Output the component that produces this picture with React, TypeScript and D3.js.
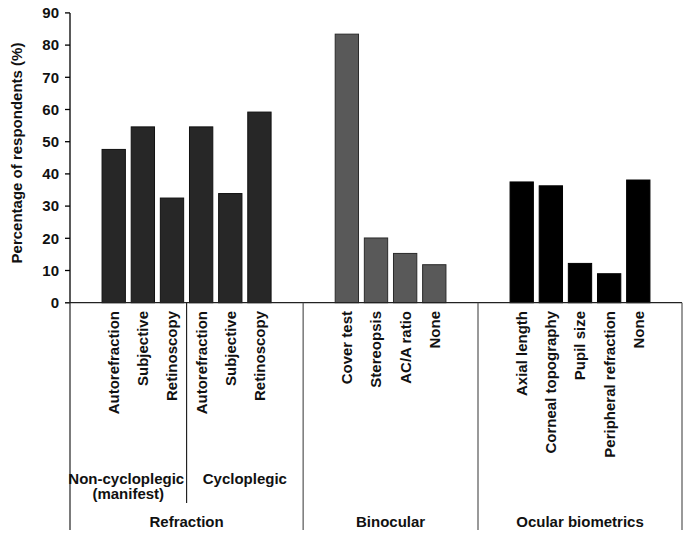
import React from "react";
import * as d3 from "d3";

const refractionLabels = ["Autorefraction", "Subjective", "Retinoscopy", "Autorefraction", "Subjective", "Retinoscopy"];
const refractionValues = [47.6, 54.6, 32.5, 54.6, 33.9, 59.2];
const binocularLabels = ["Cover test", "Stereopsis", "AC/A ratio", "None"];
const binocularValues = [83.4, 20.1, 15.3, 11.8];
const ocularLabels = ["Axial length", "Corneal topography", "Pupil size", "Peripheral refraction", "None"];
const ocularValues = [37.5, 36.3, 12.2, 9.0, 38.1];
const groupNames = ["Refraction", "Binocular", "Ocular biometrics"];
const subgroupNames = [["Non-cycloplegic", "(manifest)"], ["Cycloplegic"]];
const yTicks = [0, 10, 20, 30, 40, 50, 60, 70, 80, 90];
const yTitle = "Percentage of respondents (%)";

const W = 690;
const H = 536;
const FONT = "'Liberation Sans', Arial, Helvetica, sans-serif";

// slot layout: groups start at slot 1, 9, 15; 21 slots total
const groups = [
  { name: groupNames[0], labels: refractionLabels, values: refractionValues, start: 1, edgeStart: 0, edgeEnd: 8, fill: "#272727", stroke: "#111" },
  { name: groupNames[1], labels: binocularLabels, values: binocularValues, start: 9, edgeStart: 8, edgeEnd: 14, fill: "#595959", stroke: "#2a2a2a" },
  { name: groupNames[2], labels: ocularLabels, values: ocularValues, start: 15, edgeStart: 14, edgeEnd: 21, fill: "#000000", stroke: "#000" },
];

export default function App() {
  const x = d3.scaleBand<number>().domain(d3.range(21)).range([70, 682]).paddingInner(0.2).paddingOuter(0.1);
  const y = d3.scaleLinear().domain([0, 90]).range([302.7, 12.9]);
  const step = x.step();
  const x0 = x.range()[0];
  const edge = (i: number) => x0 + i * step;
  const baseY = y(0);
  const fs = 15;

  const bars: any[] = [];
  groups.forEach((g) => {
    g.values.forEach((v, i) => {
      bars.push({ slot: g.start + i, v, label: g.labels[i], fill: g.fill, stroke: g.stroke });
    });
  });

  return (
    <svg width={W} height={H} style={{ position: "absolute", left: 0, top: 0, background: "#fff" }} fontFamily={FONT}>
      <rect x={0} y={0} width={W} height={H} fill="#fff" />
      {/* bars */}
      {bars.map((b, i) => (
        <rect key={i} x={x(b.slot)!} y={y(b.v)} width={x.bandwidth()} height={baseY - y(b.v)} fill={b.fill} stroke={b.stroke} strokeWidth={1} />
      ))}
      {/* y axis */}
      <line x1={70} x2={70} y1={y(90)} y2={baseY} stroke="#000" strokeWidth={1.3} />
      {yTicks.map((t) => (
        <g key={t}>
          <line x1={65} x2={70} y1={y(t)} y2={y(t)} stroke="#000" strokeWidth={1.3} />
          <text x={59} y={y(t)} dy="0.35em" textAnchor="end" fontSize={fs} fontWeight="bold" fill="#111">{t}</text>
        </g>
      ))}
      <text transform={`translate(17,153) rotate(-90)`} textAnchor="middle" dy="0.35em" fontSize={fs} fontWeight="bold" fill="#111">{yTitle}</text>
      {/* x axis line */}
      <line x1={65} x2={edge(21)} y1={baseY} y2={baseY} stroke="#222" strokeWidth={1.3} />
      {/* category labels */}
      {bars.map((b, i) => (
        <text key={"l" + i} transform={`translate(${x(b.slot)! + x.bandwidth() / 2},311) rotate(-90)`} textAnchor="end" dy="0.36em" fontSize={fs} fontWeight="bold" fill="#111">{b.label}</text>
      ))}
      {/* group dividers */}
      {[0, 8, 14, 21].map((s) => (
        <line key={"d" + s} x1={edge(s)} x2={edge(s)} y1={baseY} y2={530} stroke={s === 0 ? "#222" : "#555"} strokeWidth={1.2} />
      ))}
      <line x1={edge(4)} x2={edge(4)} y1={baseY} y2={503} stroke="#222" strokeWidth={1.2} />
      {/* subgroup labels */}
      <text x={(edge(0) + edge(4)) / 2 - 2} y={483.5} textAnchor="middle" fontSize={fs} fontWeight="bold" fill="#111">{subgroupNames[0][0]}</text>
      <text x={(edge(0) + edge(4)) / 2} y={499} textAnchor="middle" fontSize={fs} fontWeight="bold" fill="#111">{subgroupNames[0][1]}</text>
      <text x={(edge(4) + edge(8)) / 2} y={483.5} textAnchor="middle" fontSize={fs} fontWeight="bold" fill="#111">{subgroupNames[1][0]}</text>
      {/* group labels */}
      {groups.map((g) => (
        <text key={g.name} x={(edge(g.edgeStart) + edge(g.edgeEnd)) / 2} y={526.5} textAnchor="middle" fontSize={fs} fontWeight="bold" fill="#111">{g.name}</text>
      ))}
    </svg>
  );
}
